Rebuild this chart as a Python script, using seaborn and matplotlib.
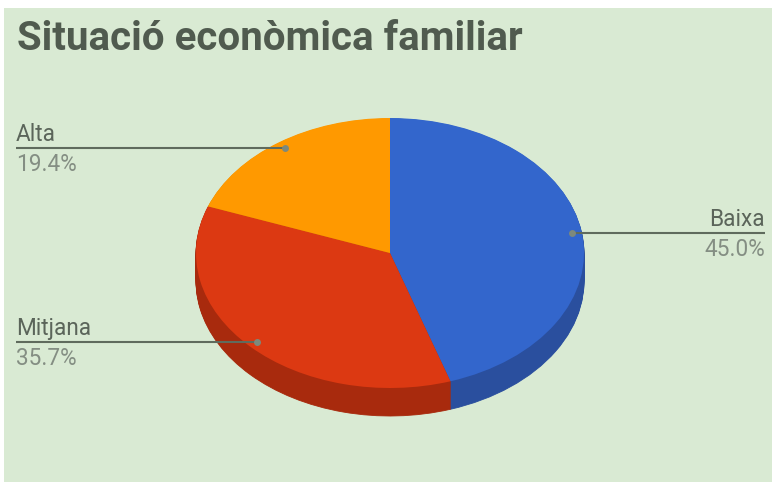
import numpy as np
import matplotlib
matplotlib.use("Agg")
import matplotlib.pyplot as plt
import seaborn as sns
from matplotlib.patches import Rectangle

# Household economic situation shares (%)
categories = ["Baixa", "Mitjana", "Alta"]
shares = [45.0, 35.7, 19.4]
slice_colors = ["#3366cc", "#dc3912", "#ff9900"]
side_colors = ["#2a4f9e", "#a82a0d", "#c47500"]
title_text = "Situació econòmica familiar"

sns.set_theme(style="white")
plt.rcParams["font.family"] = ["Roboto", "DejaVu Sans"]

W, H = 772, 482
fig = plt.figure(figsize=(W / 100, H / 100), dpi=100)
fig.patch.set_facecolor("white")
bg = "#d9ead3"
fig.add_artist(Rectangle((4 / W, 0), 1 - 4 / W, 1 - 8 / H, transform=fig.transFigure,
                         facecolor=bg, edgecolor="none", zorder=0))

# pie geometry in pixels (tilted disc)
cx, cy, rx, ry, depth = 390, 253, 194, 135, 28
d = depth / ry
ax = fig.add_axes([(cx - rx) / W, (H - (cy + ry + depth)) / H, 2 * rx / W, (2 * ry + depth) / H])
ax.patch.set_alpha(0)

# extruded side: stacked darker copies of the pie
n_layers = depth
for k in range(n_layers, 0, -1):
    ax.pie(shares, colors=side_colors, startangle=90, counterclock=False,
           center=(0, -d * k / n_layers), radius=1,
           wedgeprops=dict(linewidth=0.6, edgecolor=None))
    for w, c in zip(ax.patches[-len(shares):], side_colors):
        w.set_edgecolor(c)

wedges, _ = ax.pie(shares, colors=slice_colors, startangle=90, counterclock=False,
                   radius=1, wedgeprops=dict(linewidth=0))
ax.set_aspect("auto")
ax.set_xlim(-1, 1)
ax.set_ylim(-1 - d, 1)
ax.axis("off")

# overlay in pixel coordinates for title and labels
ov = fig.add_axes([0, 0, 1, 1])
ov.set_xlim(0, W)
ov.set_ylim(H, 0)
ov.axis("off")
ov.patch.set_alpha(0)

ov.text(17, 50, title_text, fontsize=29, fontweight="bold", color="#505b4f",
        va="baseline", ha="left")

line_col = "#5f6b5d"
name_col = "#5b655a"
pct_col = "#848e83"
fs = 16.3
for w, name, val in zip(wedges, categories, shares):
    mid = np.deg2rad((w.theta1 + w.theta2) / 2)
    p = (0.95 * np.cos(mid), 0.95 * np.sin(mid))
    disp = ax.transData.transform(p)
    px, py = ov.transData.inverted().transform(disp)
    if np.cos(mid) > 0:
        x_end, ha = 765, "right"
    else:
        x_end, ha = 16, "left"
    ov.plot([px, x_end], [py, py], color=line_col, lw=1.5, solid_capstyle="butt")
    ov.plot(px, py, "o", ms=5, color="#7d897c", mec="none")
    ov.text(x_end, py - 7, name, fontsize=fs, color=name_col, ha=ha, va="baseline")
    ov.text(x_end, py + 5, f"{val:.1f}%", fontsize=fs, color=pct_col, ha=ha, va="top")

fig.savefig("out.png", dpi=100, facecolor=fig.get_facecolor())
